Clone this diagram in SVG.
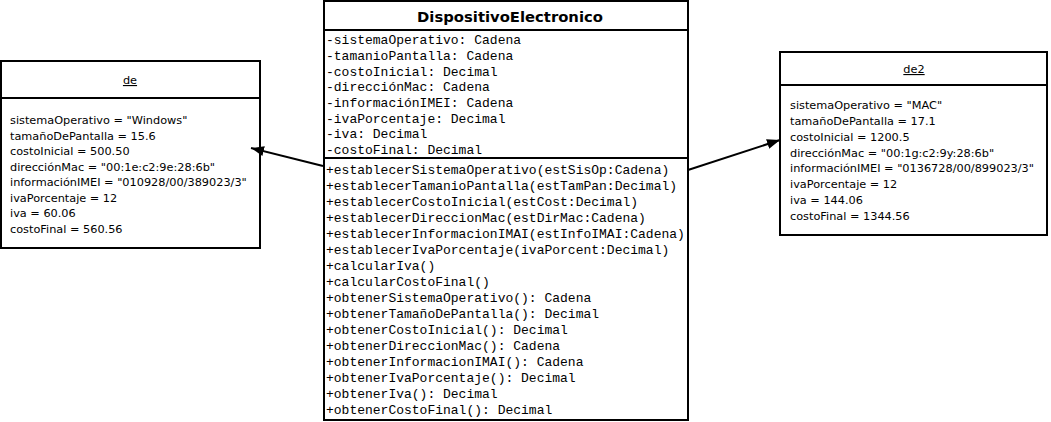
<svg xmlns="http://www.w3.org/2000/svg" width="1051" height="422" viewBox="0 0 1051 422">
<style>
.box{fill:#fff;stroke:#000;stroke-width:2}
.div{stroke:#000;stroke-width:2}
.obj{font-family:"DejaVu Sans",Verdana,sans-serif;font-size:11.3px;fill:#000}
.mono{font-family:"Liberation Mono","Courier New",monospace;font-size:13px;fill:#000}
.title{font-family:"DejaVu Sans",Verdana,sans-serif;font-size:14.8px;font-weight:bold;fill:#000}
.conn{stroke:#000;stroke-width:2;fill:none}
</style>
<defs>
<marker id="arr" markerWidth="14" markerHeight="10" refX="13" refY="5" orient="auto" markerUnits="userSpaceOnUse">
<path d="M0,0 L13,5 L0,10 Z" fill="#000"/>
</marker>
</defs>
<rect width="1051" height="422" fill="#fff"/>
<g id="de">
<rect class="box" x="1" y="61" width="259" height="187"/>
<line class="div" x1="1" y1="98" x2="260" y2="98"/>
<text class="obj" x="130" y="84" text-anchor="middle" text-decoration="underline">de</text>
<text class="obj" x="10" y="124">sistemaOperativo = "Windows"</text>
<text class="obj" x="10" y="139.5">tamañoDePantalla = 15.6</text>
<text class="obj" x="10" y="155">costoInicial = 500.50</text>
<text class="obj" x="10" y="170.5">direcciónMac = "00:1e:c2:9e:28:6b"</text>
<text class="obj" x="10" y="186">informaciónIMEI = "010928/00/389023/3"</text>
<text class="obj" x="10" y="201.5">ivaPorcentaje = 12</text>
<text class="obj" x="10" y="217">iva = 60.06</text>
<text class="obj" x="10" y="232.5">costoFinal = 560.56</text>
</g>
<g id="DispositivoElectronico">
<rect class="box" x="324" y="1" width="364" height="419"/>
<line class="div" x1="324" y1="30" x2="688" y2="30"/>
<line class="div" x1="324" y1="158" x2="688" y2="158"/>
<text class="title" x="510" y="22" text-anchor="middle">DispositivoElectronico</text>
<text class="mono" x="326" y="44">-sistemaOperativo: Cadena</text>
<text class="mono" x="326" y="60">-tamanioPantalla: Cadena</text>
<text class="mono" x="326" y="75.5">-costoInicial: Decimal</text>
<text class="mono" x="326" y="91">-direcciónMac: Cadena</text>
<text class="mono" x="326" y="107">-informaciónIMEI: Cadena</text>
<text class="mono" x="326" y="122.5">-ivaPorcentaje: Decimal</text>
<text class="mono" x="326" y="138">-iva: Decimal</text>
<text class="mono" x="326" y="154">-costoFinal: Decimal</text>
<text class="mono" x="326" y="174">+establecerSistemaOperativo(estSisOp:Cadena)</text>
<text class="mono" x="326" y="190">+establecerTamanioPantalla(estTamPan:Decimal)</text>
<text class="mono" x="326" y="206">+establecerCostoInicial(estCost:Decimal)</text>
<text class="mono" x="326" y="222">+establecerDireccionMac(estDirMac:Cadena)</text>
<text class="mono" x="326" y="238">+establecerInformacionIMAI(estInfoIMAI:Cadena)</text>
<text class="mono" x="326" y="254">+establecerIvaPorcentaje(ivaPorcent:Decimal)</text>
<text class="mono" x="326" y="270">+calcularIva()</text>
<text class="mono" x="326" y="286">+calcularCostoFinal()</text>
<text class="mono" x="326" y="302">+obtenerSistemaOperativo(): Cadena</text>
<text class="mono" x="326" y="318">+obtenerTamañoDePantalla(): Decimal</text>
<text class="mono" x="326" y="334">+obtenerCostoInicial(): Decimal</text>
<text class="mono" x="326" y="350">+obtenerDireccionMac(): Cadena</text>
<text class="mono" x="326" y="366">+obtenerInformacionIMAI(): Cadena</text>
<text class="mono" x="326" y="382">+obtenerIvaPorcentaje(): Decimal</text>
<text class="mono" x="326" y="398">+obtenerIva(): Decimal</text>
<text class="mono" x="326" y="414">+obtenerCostoFinal(): Decimal</text>
</g>
<g id="de2">
<rect class="box" x="780" y="52" width="267" height="183"/>
<line class="div" x1="780" y1="85" x2="1047" y2="85"/>
<text class="obj" x="914" y="73" text-anchor="middle" text-decoration="underline">de2</text>
<text class="obj" x="790" y="109">sistemaOperativo = "MAC"</text>
<text class="obj" x="790" y="125">tamañoDePantalla = 17.1</text>
<text class="obj" x="790" y="140.5">costoInicial = 1200.5</text>
<text class="obj" x="790" y="156.5">direcciónMac = "00:1g:c2:9y:28:6b"</text>
<text class="obj" x="790" y="172">informaciónIMEI = "0136728/00/899023/3"</text>
<text class="obj" x="790" y="188">ivaPorcentaje = 12</text>
<text class="obj" x="790" y="204">iva = 144.06</text>
<text class="obj" x="790" y="220">costoFinal = 1344.56</text>
</g>
<g id="connectors">
<line class="conn" x1="323" y1="166" x2="251" y2="148" marker-end="url(#arr)"/>
<line class="conn" x1="688" y1="170" x2="780" y2="140" marker-end="url(#arr)"/>
</g>
</svg>
